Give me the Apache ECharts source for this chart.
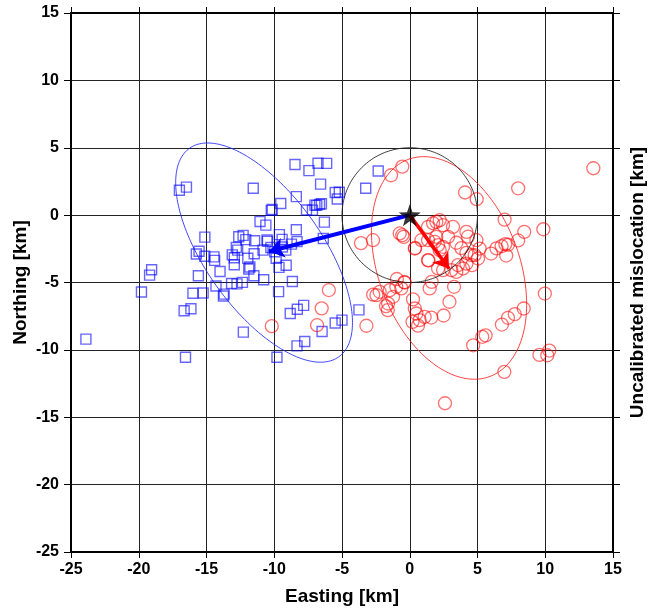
<!DOCTYPE html>
<html>
<head>
<meta charset="utf-8">
<script src="https://cdn.jsdelivr.net/npm/echarts@6/dist/echarts.min.js"></script>
<style>html,body{margin:0;padding:0;background:#fff}#c{width:650px;height:608px}</style>
</head>
<body>
<div id="c"></div>
<script>
// Axis ticks
const xTicks = [-25, -20, -15, -10, -5, 0, 5, 10, 15];
const yTicks = [-25, -20, -15, -10, -5, 0, 5, 10, 15];

// Blue squares [Easting, Northing]
const bluePoints = [
[-23.9,-9.2],[-19.8,-5.7],[-19.2,-4.45],[-19.05,-4.05],[-17.0,1.85],[-16.48,2.08],
[-16.65,-7.1],[-16.15,-6.95],[-16.55,-10.55],[-16.0,-5.8],[-15.75,-2.88],[-15.55,-2.68],
[-15.6,-4.5],[-15.25,-5.78],[-15.12,-1.63],[-15.12,-3.05],[-14.45,-3.1],[-14.4,-3.36],
[-14.3,-5.26],[-14.0,-4.18],[-13.75,-6.0],[-13.7,-5.86],[-13.15,-5.07],[-13.1,-2.95],
[-12.95,-3.68],[-12.95,-3.16],[-12.8,-2.4],[-12.7,-2.6],[-12.75,-5.1],[-12.62,-1.6],
[-12.35,-4.99],[-12.3,-1.5],[-12.28,-8.68],[-12.1,-1.82],[-11.95,-3.2],[-11.88,-4.0],
[-11.8,-3.85],[-11.55,2.0],[-11.45,-1.9],[-11.48,-2.87],[-11.5,-4.5],[-11.05,-0.47],
[-10.78,-4.8],[-10.62,-0.74],[-10.53,-1.85],[-10.5,-1.95],[-10.22,0.35],[-10.15,0.42],
[-10.25,-2.4],[-10.83,-2.6],[-9.97,-2.72],[-9.86,-3.2],[-9.68,-5.68],[-9.65,-3.88],
[-9.8,-10.55],[-9.62,-1.45],[-9.52,0.86],[-9.42,-1.8],[-9.4,-2.36],[-9.15,-2.6],
[-9.12,-3.72],[-8.82,-7.3],[-8.66,-4.93],[-8.47,3.76],[-8.37,1.37],[-8.37,-1.08],
[-8.73,-2.15],[-8.32,-1.97],[-8.32,-9.7],[-8.3,-6.98],[-7.83,-6.7],[-7.75,-9.38],
[-7.44,3.3],[-7.62,0.38],[-7.18,0.37],[-7.0,0.74],[-6.86,0.72],[-6.77,3.85],
[-6.66,0.8],[-6.52,0.84],[-6.58,2.3],[-6.47,-8.64],[-6.3,-0.52],[-6.13,3.84],
[-6.38,-1.74],[-5.5,-8.0],[-5.5,1.68],[-5.35,1.2],[-5.2,1.7],[-5.0,-7.79],
[-3.75,-7.03],[-3.25,2.0],[-2.33,3.27]
];

// Red circles [Easting, Northing]
const redPoints = [
[13.55,3.48],[8.0,1.99],[4.08,1.68],[4.94,1.18],[-0.55,3.6],[-1.38,2.96],[7.0,-0.33],
[9.86,-1.05],[8.45,-1.24],[8.0,-1.88],[7.05,-2.15],[7.25,-2.2],[6.78,-2.3],[6.4,-2.47],
[7.12,-3.0],[6.0,-2.85],[4.92,-1.86],[5.16,-2.48],[4.79,-2.97],[5.04,-3.22],[4.55,-2.97],
[4.18,-1.24],[4.3,-1.6],[3.44,-2.05],[3.81,-2.45],[4.18,-2.8],[4.18,-3.6],[3.93,-3.96],
[3.44,-4.21],[3.56,-3.71],[4.6,-3.71],[1.96,-0.5],[2.21,-0.37],[1.72,-0.6],[2.46,-0.74],
[1.35,-0.87],[3.19,-0.87],[1.96,-1.61],[1.84,-1.98],[2.09,-2.23],[2.83,-1.61],[2.21,-2.6],
[2.46,-2.35],[1.35,-1.86],[0.86,-1.86],[0.37,-2.48],[1.35,-3.34],[2.09,-3.96],[2.46,-4.08],
[3.07,-4.08],[-0.74,-1.36],[-0.55,-1.49],[-0.45,-1.61],[-2.71,-1.86],[-3.6,-2.08],
[-2.22,-5.69],[-2.46,-5.94],[-2.7,-5.9],[-1.48,-5.57],[-0.99,-5.32],[-0.37,-5.0],
[-0.62,-5.44],[-0.95,-4.74],[-1.6,-6.56],[-1.62,-7.05],[-1.75,-6.75],[-1.23,-6.06],
[0.24,-6.25],[0.37,-6.93],[0.49,-7.3],[0.73,-7.79],[0.61,-8.2],[1.1,-7.55],[1.59,-7.6],
[0.2,-7.92],[2.5,-7.45],[2.93,-6.43],[3.27,-5.32],[1.47,-5.44],[1.62,-4.95],[-3.2,-8.21],
[9.97,-5.82],[8.41,-6.93],[7.75,-7.35],[7.25,-7.62],[6.8,-8.12],[5.6,-8.92],[5.35,-9.03],
[4.68,-9.66],[9.57,-10.37],[10.3,-10.05],[10.15,-10.4],[6.98,-11.63],[2.6,-13.96],
[-5.97,-5.56],[-6.5,-6.92],[-6.84,-8.17],[-10.18,-8.24],[1.38,-3.36],[0.4,-2.44],[-0.4,-4.97]
];

// Reference point (star) and mislocation arrows
const starPoint = [0, 0];
const blueArrowEnd = [-10.4, -2.7];
const redArrowEnd = [2.9, -3.98];

// Ellipses: center, semi-axes, rotation (deg, counter-clockwise from east)
const ellipseCenters = [[-10.75, -2.78], [2.9, -3.92], [0, 0]];
const ellipseSemiAxes = [[9.5, 4.3], [8.6, 5.2], [5, 5]];
const ellipseAngles = [-54.6, -69.5, 0];
const ellipseColors = ['rgba(30,40,255,0.85)', 'rgba(255,30,30,0.85)', 'rgba(40,40,40,0.9)'];

const FONT = 'Liberation Sans, Arial, Helvetica, sans-serif';

const ellipseData = ellipseCenters.map((c, i) => [c[0], c[1], ellipseSemiAxes[i][0], ellipseSemiAxes[i][1], ellipseAngles[i]]);

const chart = echarts.init(document.getElementById('c'), null, {renderer: 'canvas'});

const baseX = {
  type: 'value', min: xTicks[0], max: xTicks[xTicks.length - 1], interval: 5
};
const baseY = {
  type: 'value', min: yTicks[0], max: yTicks[yTicks.length - 1], interval: 5
};

chart.setOption({
  animation: false,
  backgroundColor: '#fff',
  grid: {left: 71, right: 37, top: 13, bottom: 56, containLabel: false, outerBoundsMode: 'none'},
  xAxis: [
    Object.assign({}, baseX, {
      position: 'bottom',
      name: 'Easting [km]', nameLocation: 'middle', nameGap: 35, nameMoveOverlap: false,
      nameTextStyle: {fontSize: 19, fontWeight: 'bold', color: '#000', fontFamily: FONT},
      axisLine: {show: true, onZero: false, lineStyle: {color: '#000', width: 2}},
      axisTick: {show: true, length: 6, lineStyle: {color: '#000', width: 1}},
      axisLabel: {fontSize: 16, fontWeight: 'bold', color: '#000', margin: 10, fontFamily: FONT},
      splitLine: {show: true, lineStyle: {color: '#222', width: 1}}
    }),
    Object.assign({}, baseX, {
      position: 'top',
      axisLine: {show: true, onZero: false, lineStyle: {color: '#000', width: 2}},
      axisTick: {show: true, length: 6, lineStyle: {color: '#000', width: 1}},
      axisLabel: {show: false},
      splitLine: {show: false}
    })
  ],
  yAxis: [
    Object.assign({}, baseY, {
      position: 'left',
      name: 'Northing [km]', nameLocation: 'middle', nameGap: 41, nameRotate: 90, nameMoveOverlap: false,
      nameTextStyle: {fontSize: 19, fontWeight: 'bold', color: '#000', fontFamily: FONT},
      axisLine: {show: true, onZero: false, lineStyle: {color: '#000', width: 2}},
      axisTick: {show: true, length: 7, lineStyle: {color: '#000', width: 1}},
      axisLabel: {fontSize: 16, fontWeight: 'bold', color: '#000', margin: 12, fontFamily: FONT},
      splitLine: {show: true, lineStyle: {color: '#222', width: 1}}
    }),
    Object.assign({}, baseY, {
      position: 'right',
      name: 'Uncalibrated mislocation [km]', nameLocation: 'middle', nameGap: 15, nameRotate: 90,
      nameTextStyle: {fontSize: 19, fontWeight: 'bold', color: '#000', fontFamily: FONT},
      axisLine: {show: true, onZero: false, lineStyle: {color: '#000', width: 2}},
      axisTick: {show: true, length: 7, lineStyle: {color: '#000', width: 1}},
      axisLabel: {show: false},
      splitLine: {show: false}
    })
  ],
  series: [
    {
      type: 'scatter', name: 'blue', xAxisIndex: 0, yAxisIndex: 0,
      data: bluePoints, symbol: 'rect', symbolSize: 10,
      itemStyle: {color: 'rgba(0,0,0,0)', borderColor: 'rgba(0,0,255,0.75)', borderWidth: 1.4},
      z: 3
    },
    {
      type: 'scatter', name: 'red', xAxisIndex: 0, yAxisIndex: 0,
      data: redPoints, symbol: 'circle', symbolSize: 13,
      itemStyle: {color: 'rgba(0,0,0,0)', borderColor: 'rgba(255,0,0,0.7)', borderWidth: 1.3},
      z: 3
    },
    {
      type: 'custom', name: 'ellipses', xAxisIndex: 0, yAxisIndex: 0,
      data: ellipseData, encode: {x: 0, y: 1},
      clip: false, silent: true, z: 4,
      renderItem: function (params, api) {
        const cx = api.value(0), cy = api.value(1), a = api.value(2), b = api.value(3);
        const th = api.value(4) * Math.PI / 180;
        const pts = [];
        const N = 200;
        for (let k = 0; k <= N; k++) {
          const t = k / N * 2 * Math.PI;
          const x = cx + a * Math.cos(th) * Math.cos(t) - b * Math.sin(th) * Math.sin(t);
          const y = cy + a * Math.sin(th) * Math.cos(t) + b * Math.cos(th) * Math.sin(t);
          pts.push(api.coord([x, y]));
        }
        return {type: 'polyline', shape: {points: pts},
          style: {stroke: ellipseColors[params.dataIndex], fill: null, lineWidth: 1}};
      }
    },
    {
      type: 'lines', coordinateSystem: 'cartesian2d', xAxisIndex: 0, yAxisIndex: 0,
      symbol: ['none', 'arrow'], symbolSize: 15, z: 5,
      data: [
        {coords: [starPoint, blueArrowEnd], lineStyle: {color: '#0000ff', width: 4, opacity: 1}},
        {coords: [starPoint, redArrowEnd], lineStyle: {color: '#ff0000', width: 3.5, opacity: 1}}
      ]
    },
    {
      type: 'scatter', name: 'star', xAxisIndex: 0, yAxisIndex: 0,
      data: [starPoint],
      symbol: 'path://M0,-10 L2.35,-3.24 L9.51,-3.09 L3.8,1.24 L5.88,8.09 L0,4 L-5.88,8.09 L-3.8,1.24 L-9.51,-3.09 L-2.35,-3.24 Z',
      symbolSize: 22, itemStyle: {color: '#000'}, z: 6
    }
  ]
});
</script>
</body>
</html>
